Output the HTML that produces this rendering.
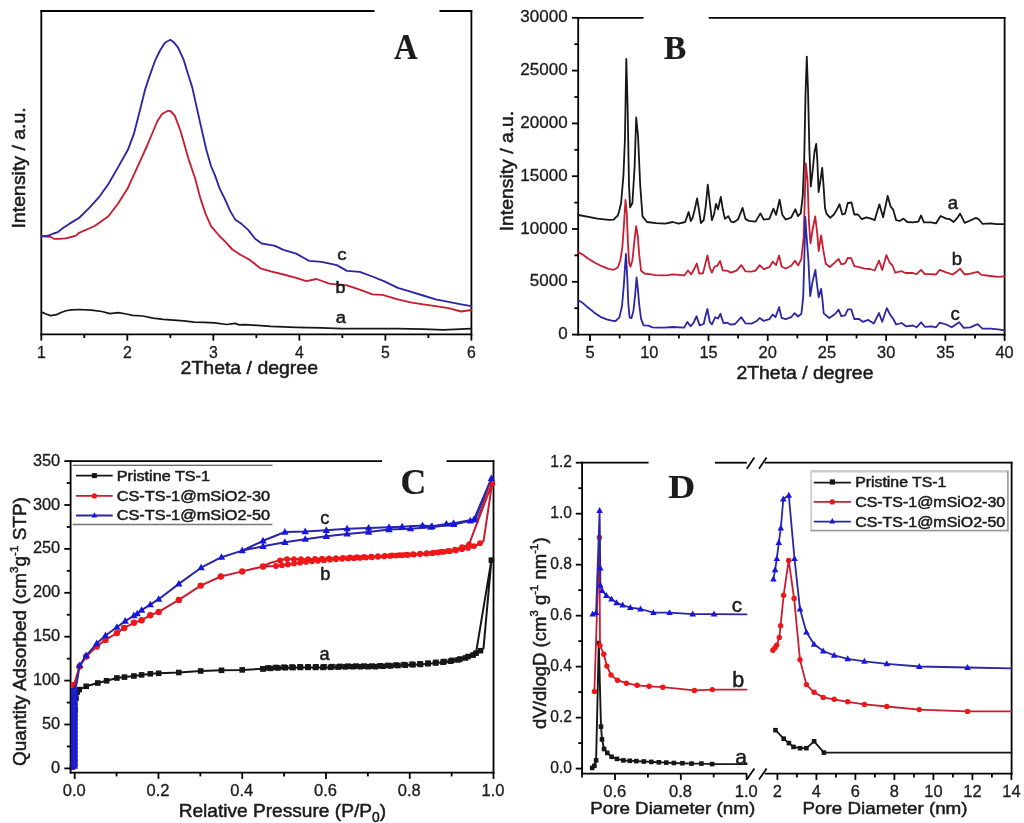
<!DOCTYPE html>
<html><head><meta charset="utf-8"><style>
html,body{margin:0;padding:0;background:#fff;width:1024px;height:823px;overflow:hidden}
svg{display:block}
text{stroke:#1c1c1c;stroke-width:0.5px}
</style></head><body>
<svg width="1024" height="823" viewBox="0 0 1024 823">
<defs><filter id="bl" x="0" y="0" width="1024" height="823" filterUnits="userSpaceOnUse"><feGaussianBlur stdDeviation="0.4"/></filter></defs>
<rect width="1024" height="823" fill="#fff"/>
<g filter="url(#bl)">
<rect width="1024" height="823" fill="#fff"/>
<line x1="41.30" y1="10.15" x2="41.30" y2="335.15" stroke="#000" stroke-width="1.8" stroke-linecap="butt"/>
<line x1="471.40" y1="10.15" x2="471.40" y2="335.15" stroke="#000" stroke-width="1.8" stroke-linecap="butt"/>
<line x1="40.45" y1="334.30" x2="472.25" y2="334.30" stroke="#000" stroke-width="1.8" stroke-linecap="butt"/>
<line x1="40.45" y1="11.00" x2="374.50" y2="11.00" stroke="#000" stroke-width="1.8" stroke-linecap="butt"/>
<line x1="439.50" y1="11.00" x2="472.25" y2="11.00" stroke="#000" stroke-width="1.8" stroke-linecap="butt"/>
<line x1="41.30" y1="334.30" x2="41.30" y2="340.60" stroke="#000" stroke-width="1.8" stroke-linecap="butt"/>
<text x="41.30" y="357.70" font-family="Liberation Sans" font-size="15.8" font-weight="normal" text-anchor="middle" fill="#1c1c1c" style="stroke-width:0.3px">1</text>
<line x1="84.31" y1="334.30" x2="84.31" y2="338.10" stroke="#000" stroke-width="1.8" stroke-linecap="butt"/>
<line x1="127.32" y1="334.30" x2="127.32" y2="340.60" stroke="#000" stroke-width="1.8" stroke-linecap="butt"/>
<text x="127.32" y="357.70" font-family="Liberation Sans" font-size="15.8" font-weight="normal" text-anchor="middle" fill="#1c1c1c" style="stroke-width:0.3px">2</text>
<line x1="170.33" y1="334.30" x2="170.33" y2="338.10" stroke="#000" stroke-width="1.8" stroke-linecap="butt"/>
<line x1="213.34" y1="334.30" x2="213.34" y2="340.60" stroke="#000" stroke-width="1.8" stroke-linecap="butt"/>
<text x="213.34" y="357.70" font-family="Liberation Sans" font-size="15.8" font-weight="normal" text-anchor="middle" fill="#1c1c1c" style="stroke-width:0.3px">3</text>
<line x1="256.35" y1="334.30" x2="256.35" y2="338.10" stroke="#000" stroke-width="1.8" stroke-linecap="butt"/>
<line x1="299.36" y1="334.30" x2="299.36" y2="340.60" stroke="#000" stroke-width="1.8" stroke-linecap="butt"/>
<text x="299.36" y="357.70" font-family="Liberation Sans" font-size="15.8" font-weight="normal" text-anchor="middle" fill="#1c1c1c" style="stroke-width:0.3px">4</text>
<line x1="342.37" y1="334.30" x2="342.37" y2="338.10" stroke="#000" stroke-width="1.8" stroke-linecap="butt"/>
<line x1="385.38" y1="334.30" x2="385.38" y2="340.60" stroke="#000" stroke-width="1.8" stroke-linecap="butt"/>
<text x="385.38" y="357.70" font-family="Liberation Sans" font-size="15.8" font-weight="normal" text-anchor="middle" fill="#1c1c1c" style="stroke-width:0.3px">5</text>
<line x1="428.39" y1="334.30" x2="428.39" y2="338.10" stroke="#000" stroke-width="1.8" stroke-linecap="butt"/>
<line x1="471.40" y1="334.30" x2="471.40" y2="340.60" stroke="#000" stroke-width="1.8" stroke-linecap="butt"/>
<text x="471.40" y="357.70" font-family="Liberation Sans" font-size="15.8" font-weight="normal" text-anchor="middle" fill="#1c1c1c" style="stroke-width:0.3px">6</text>
<g transform="translate(181.70,361.25) scale(1.0816,1.0088) translate(-301,-287)"><text x="300" y="300" font-family="Liberation Sans" font-size="18" fill="#1a1a1a" >2Theta / degree</text></g>
<g transform="translate(11.60,108.30) scale(1.0588,1.0818) translate(-287,-289)"><text x="0" y="0" font-family="Liberation Sans" font-size="18" fill="#1a1a1a" transform="translate(300,400) rotate(-90)" >Intensity / a.u.</text></g>
<g transform="translate(394.10,36.00) scale(0.9077,0.9708) translate(-300,-276)"><text x="300" y="300" font-family="Liberation Serif" font-weight="bold" style="stroke:#111;stroke-width:0.2px" font-size="36" fill="#1a1a1a" >A</text></g>
<polyline points="41.7,312.1 46.0,314.0 50.5,315.6 56.7,314.6 61.0,312.5 66.9,310.5 72.0,309.8 79.2,309.5 91.5,310.1 101.8,311.5 110.0,313.6 118.2,312.6 126.4,314.0 132.5,315.4 142.8,316.0 153.1,318.1 163.3,319.3 173.6,320.1 183.8,320.8 194.1,322.2 204.3,322.4 214.6,322.8 226.9,324.5 235.1,323.4 239.2,324.9 245.4,324.7 270.8,326.3 296.2,327.3 321.6,327.8 341.9,328.6 372.4,328.6 397.8,328.6 423.1,329.1 443.5,329.8 471.4,328.6" fill="none" stroke="#161616" stroke-width="1.75" stroke-linejoin="round" stroke-linecap="round" />
<polyline points="42.0,236.4 46.0,236.6 50.1,236.8 54.0,238.8 59.4,238.8 65.3,238.4 71.2,237.0 76.0,235.6 79.0,232.8 94.7,226.0 108.4,216.2 118.1,203.5 127.9,187.9 137.7,166.4 147.4,145.0 157.2,121.5 162.0,114.0 167.9,110.7 171.0,111.5 174.8,115.6 180.6,131.2 188.4,158.6 195.0,178.0 200.3,198.1 205.7,214.1 211.0,226.1 219.0,235.5 225.7,242.2 232.4,249.5 240.4,254.8 249.8,259.9 260.6,268.4 270.8,271.4 283.5,274.5 296.2,277.8 306.3,281.1 316.5,279.0 329.2,283.6 347.0,285.4 359.7,289.7 372.4,294.3 382.5,294.8 397.8,299.3 410.5,302.4 423.1,304.4 435.8,306.2 448.5,308.2 461.2,311.5 471.4,310.0" fill="none" stroke="#c81e30" stroke-width="1.85" stroke-linejoin="round" stroke-linecap="round" />
<polyline points="41.5,235.8 45.0,236.2 48.9,235.4 53.6,233.5 57.9,232.1 63.3,227.8 69.2,223.9 75.0,220.4 79.0,218.0 88.8,208.4 98.6,197.7 108.4,184.0 118.0,167.4 127.9,149.8 133.8,134.2 139.5,112.0 145.4,88.6 149.3,76.9 155.2,60.3 160.0,50.5 164.9,42.7 170.3,39.8 173.7,42.2 178.1,47.6 183.5,59.3 187.4,72.0 192.3,87.6 197.1,109.1 202.0,131.0 206.4,150.0 211.0,166.0 215.0,175.4 219.7,188.7 225.0,199.4 230.4,211.4 235.1,219.4 241.7,224.1 248.4,230.1 255.1,238.8 261.8,243.5 269.8,244.8 275.0,245.9 283.5,249.8 296.2,253.6 308.9,260.8 321.6,261.8 336.8,265.1 347.0,270.9 359.7,271.9 372.4,276.5 385.0,281.6 397.8,287.9 410.5,291.7 423.1,295.5 435.8,299.3 448.5,301.9 461.2,304.4 471.4,306.2" fill="none" stroke="#2a25a4" stroke-width="1.85" stroke-linejoin="round" stroke-linecap="round" />
<text x="0" y="0" font-family="Liberation Sans" font-size="17" font-weight="normal" text-anchor="middle" fill="#1c1c1c" transform="translate(341.90,259.70) scale(1.1,1)">c</text>
<text x="0" y="0" font-family="Liberation Sans" font-size="17" font-weight="normal" text-anchor="middle" fill="#1c1c1c" transform="translate(340.40,293.10) scale(1.05,1)">b</text>
<text x="0" y="0" font-family="Liberation Sans" font-size="17" font-weight="normal" text-anchor="middle" fill="#1c1c1c" transform="translate(340.75,323.00) scale(1.08,1)">a</text>
<line x1="578.20" y1="16.95" x2="578.20" y2="335.45" stroke="#000" stroke-width="1.8" stroke-linecap="butt"/>
<line x1="1004.60" y1="16.95" x2="1004.60" y2="335.45" stroke="#000" stroke-width="1.8" stroke-linecap="butt"/>
<line x1="577.35" y1="334.60" x2="1005.45" y2="334.60" stroke="#000" stroke-width="1.8" stroke-linecap="butt"/>
<line x1="577.35" y1="17.80" x2="643.50" y2="17.80" stroke="#000" stroke-width="1.8" stroke-linecap="butt"/>
<line x1="708.70" y1="17.80" x2="1005.45" y2="17.80" stroke="#000" stroke-width="1.8" stroke-linecap="butt"/>
<line x1="571.90" y1="334.60" x2="578.20" y2="334.60" stroke="#000" stroke-width="1.8" stroke-linecap="butt"/>
<text x="0" y="0" font-family="Liberation Sans" font-size="15.6" font-weight="normal" text-anchor="end" fill="#1c1c1c" style="stroke-width:0.3px" transform="translate(567.60,339.20) scale(1.09,1)">0</text>
<line x1="574.40" y1="308.20" x2="578.20" y2="308.20" stroke="#000" stroke-width="1.8" stroke-linecap="butt"/>
<line x1="571.90" y1="281.80" x2="578.20" y2="281.80" stroke="#000" stroke-width="1.8" stroke-linecap="butt"/>
<text x="0" y="0" font-family="Liberation Sans" font-size="15.6" font-weight="normal" text-anchor="end" fill="#1c1c1c" style="stroke-width:0.3px" transform="translate(567.60,286.40) scale(1.09,1)">5000</text>
<line x1="574.40" y1="255.40" x2="578.20" y2="255.40" stroke="#000" stroke-width="1.8" stroke-linecap="butt"/>
<line x1="571.90" y1="229.00" x2="578.20" y2="229.00" stroke="#000" stroke-width="1.8" stroke-linecap="butt"/>
<text x="0" y="0" font-family="Liberation Sans" font-size="15.6" font-weight="normal" text-anchor="end" fill="#1c1c1c" style="stroke-width:0.3px" transform="translate(567.60,233.60) scale(1.09,1)">10000</text>
<line x1="574.40" y1="202.60" x2="578.20" y2="202.60" stroke="#000" stroke-width="1.8" stroke-linecap="butt"/>
<line x1="571.90" y1="176.20" x2="578.20" y2="176.20" stroke="#000" stroke-width="1.8" stroke-linecap="butt"/>
<text x="0" y="0" font-family="Liberation Sans" font-size="15.6" font-weight="normal" text-anchor="end" fill="#1c1c1c" style="stroke-width:0.3px" transform="translate(567.60,180.80) scale(1.09,1)">15000</text>
<line x1="574.40" y1="149.80" x2="578.20" y2="149.80" stroke="#000" stroke-width="1.8" stroke-linecap="butt"/>
<line x1="571.90" y1="123.40" x2="578.20" y2="123.40" stroke="#000" stroke-width="1.8" stroke-linecap="butt"/>
<text x="0" y="0" font-family="Liberation Sans" font-size="15.6" font-weight="normal" text-anchor="end" fill="#1c1c1c" style="stroke-width:0.3px" transform="translate(567.60,128.00) scale(1.09,1)">20000</text>
<line x1="574.40" y1="97.00" x2="578.20" y2="97.00" stroke="#000" stroke-width="1.8" stroke-linecap="butt"/>
<line x1="571.90" y1="70.60" x2="578.20" y2="70.60" stroke="#000" stroke-width="1.8" stroke-linecap="butt"/>
<text x="0" y="0" font-family="Liberation Sans" font-size="15.6" font-weight="normal" text-anchor="end" fill="#1c1c1c" style="stroke-width:0.3px" transform="translate(567.60,75.20) scale(1.09,1)">25000</text>
<line x1="574.40" y1="44.20" x2="578.20" y2="44.20" stroke="#000" stroke-width="1.8" stroke-linecap="butt"/>
<line x1="571.90" y1="17.80" x2="578.20" y2="17.80" stroke="#000" stroke-width="1.8" stroke-linecap="butt"/>
<text x="0" y="0" font-family="Liberation Sans" font-size="15.6" font-weight="normal" text-anchor="end" fill="#1c1c1c" style="stroke-width:0.3px" transform="translate(567.60,22.40) scale(1.09,1)">30000</text>
<line x1="590.04" y1="334.60" x2="590.04" y2="340.90" stroke="#000" stroke-width="1.8" stroke-linecap="butt"/>
<text x="0" y="0" font-family="Liberation Sans" font-size="15.6" font-weight="normal" text-anchor="middle" fill="#1c1c1c" style="stroke-width:0.3px" transform="translate(590.04,358.00) scale(1.05,1)">5</text>
<line x1="619.66" y1="334.60" x2="619.66" y2="338.40" stroke="#000" stroke-width="1.8" stroke-linecap="butt"/>
<line x1="649.27" y1="334.60" x2="649.27" y2="340.90" stroke="#000" stroke-width="1.8" stroke-linecap="butt"/>
<text x="0" y="0" font-family="Liberation Sans" font-size="15.6" font-weight="normal" text-anchor="middle" fill="#1c1c1c" style="stroke-width:0.3px" transform="translate(649.27,358.00) scale(1.05,1)">10</text>
<line x1="678.88" y1="334.60" x2="678.88" y2="338.40" stroke="#000" stroke-width="1.8" stroke-linecap="butt"/>
<line x1="708.49" y1="334.60" x2="708.49" y2="340.90" stroke="#000" stroke-width="1.8" stroke-linecap="butt"/>
<text x="0" y="0" font-family="Liberation Sans" font-size="15.6" font-weight="normal" text-anchor="middle" fill="#1c1c1c" style="stroke-width:0.3px" transform="translate(708.49,358.00) scale(1.05,1)">15</text>
<line x1="738.10" y1="334.60" x2="738.10" y2="338.40" stroke="#000" stroke-width="1.8" stroke-linecap="butt"/>
<line x1="767.71" y1="334.60" x2="767.71" y2="340.90" stroke="#000" stroke-width="1.8" stroke-linecap="butt"/>
<text x="0" y="0" font-family="Liberation Sans" font-size="15.6" font-weight="normal" text-anchor="middle" fill="#1c1c1c" style="stroke-width:0.3px" transform="translate(767.71,358.00) scale(1.05,1)">20</text>
<line x1="797.32" y1="334.60" x2="797.32" y2="338.40" stroke="#000" stroke-width="1.8" stroke-linecap="butt"/>
<line x1="826.93" y1="334.60" x2="826.93" y2="340.90" stroke="#000" stroke-width="1.8" stroke-linecap="butt"/>
<text x="0" y="0" font-family="Liberation Sans" font-size="15.6" font-weight="normal" text-anchor="middle" fill="#1c1c1c" style="stroke-width:0.3px" transform="translate(826.93,358.00) scale(1.05,1)">25</text>
<line x1="856.54" y1="334.60" x2="856.54" y2="338.40" stroke="#000" stroke-width="1.8" stroke-linecap="butt"/>
<line x1="886.16" y1="334.60" x2="886.16" y2="340.90" stroke="#000" stroke-width="1.8" stroke-linecap="butt"/>
<text x="0" y="0" font-family="Liberation Sans" font-size="15.6" font-weight="normal" text-anchor="middle" fill="#1c1c1c" style="stroke-width:0.3px" transform="translate(886.16,358.00) scale(1.05,1)">30</text>
<line x1="915.77" y1="334.60" x2="915.77" y2="338.40" stroke="#000" stroke-width="1.8" stroke-linecap="butt"/>
<line x1="945.38" y1="334.60" x2="945.38" y2="340.90" stroke="#000" stroke-width="1.8" stroke-linecap="butt"/>
<text x="0" y="0" font-family="Liberation Sans" font-size="15.6" font-weight="normal" text-anchor="middle" fill="#1c1c1c" style="stroke-width:0.3px" transform="translate(945.38,358.00) scale(1.05,1)">35</text>
<line x1="974.99" y1="334.60" x2="974.99" y2="338.40" stroke="#000" stroke-width="1.8" stroke-linecap="butt"/>
<line x1="1004.60" y1="334.60" x2="1004.60" y2="340.90" stroke="#000" stroke-width="1.8" stroke-linecap="butt"/>
<text x="0" y="0" font-family="Liberation Sans" font-size="15.6" font-weight="normal" text-anchor="middle" fill="#1c1c1c" style="stroke-width:0.3px" transform="translate(1004.60,358.00) scale(1.05,1)">40</text>
<g transform="translate(737.50,365.60) scale(1.0784,1.0294) translate(-301,-287)"><text x="300" y="300" font-family="Liberation Sans" font-size="18" fill="#1a1a1a" >2Theta / degree</text></g>
<g transform="translate(499.40,111.90) scale(1.0647,1.0755) translate(-287,-289)"><text x="0" y="0" font-family="Liberation Sans" font-size="18" fill="#1a1a1a" transform="translate(300,400) rotate(-90)" >Intensity / a.u.</text></g>
<g transform="translate(664.80,37.40) scale(0.9364,0.9125) translate(-301,-276)"><text x="300" y="300" font-family="Liberation Serif" font-weight="bold" style="stroke:#111;stroke-width:0.2px" font-size="36" fill="#1a1a1a" >B</text></g>
<polyline points="578.3,215.0 588.5,216.9 597.5,218.7 608.7,219.8 613.7,219.6 615.5,217.6 617.8,215.5 618.9,212.0 621.1,203.0 623.4,176.0 624.9,140.0 626.3,59.0 627.6,106.2 629.0,185.0 630.1,207.4 632.4,203.0 634.6,167.0 636.2,117.5 638.0,135.5 640.2,185.0 642.5,216.4 647.0,222.0 656.0,223.2 665.0,223.6 672.8,222.0 678.5,223.6 685.2,222.0 688.6,212.0 690.8,221.0 692.7,217.5 694.8,209.3 697.1,198.4 698.9,209.3 700.9,223.0 703.7,220.2 705.7,206.6 707.8,184.7 709.8,202.5 711.9,220.2 713.9,214.8 716.0,203.8 718.0,209.3 720.8,197.0 722.8,209.3 724.9,218.9 728.3,216.1 731.0,221.6 733.8,222.3 737.9,219.6 742.6,207.9 745.4,218.9 748.8,220.9 755.6,221.6 760.4,213.4 763.8,219.6 769.3,218.9 773.4,208.6 776.1,214.8 779.6,199.7 782.3,214.8 785.7,219.6 791.2,217.5 795.3,209.3 798.0,216.1 800.7,213.4 802.8,195.6 804.2,160.0 805.5,95.0 806.8,56.6 808.0,90.0 809.4,150.0 810.8,186.4 812.5,172.0 814.5,152.0 816.2,144.0 817.3,160.0 818.6,192.0 820.5,180.0 822.2,168.0 823.5,185.0 825.0,208.0 826.5,213.6 830.2,217.9 833.9,214.5 836.7,209.9 839.5,204.3 842.3,214.5 845.1,213.6 847.8,203.0 851.5,202.5 854.3,214.5 858.0,214.5 861.8,219.2 866.4,217.3 871.0,218.6 874.7,220.1 879.4,204.3 883.1,217.3 887.7,196.0 890.5,206.2 893.3,209.9 896.1,220.1 899.8,221.0 903.5,218.6 907.2,222.0 912.8,222.3 918.3,221.6 921.1,215.5 923.9,222.3 931.3,222.3 936.0,223.4 940.6,216.0 946.2,218.6 949.9,219.2 953.6,222.0 957.3,217.9 960.1,213.6 964.7,222.9 970.3,220.5 975.9,217.9 978.7,219.2 982.4,223.8 990.7,223.4 996.3,224.2 1004.6,224.2" fill="none" stroke="#161616" stroke-width="1.8" stroke-linejoin="round" stroke-linecap="round" />
<polyline points="578.3,252.1 583.0,254.8 588.4,258.8 595.0,262.8 601.7,266.2 608.4,268.8 613.7,269.8 617.8,267.5 620.4,260.2 622.4,246.8 623.8,226.8 625.5,200.0 626.8,213.4 627.8,240.1 629.1,262.8 630.4,266.8 632.4,260.2 634.5,240.1 636.2,226.1 637.8,236.1 639.1,253.5 641.1,270.8 644.5,273.5 651.2,274.3 655.2,275.1 663.9,275.3 668.5,275.1 672.8,274.3 681.9,275.1 684.2,275.5 688.0,270.5 691.2,274.3 694.6,268.2 696.8,263.5 699.2,273.5 703.0,273.3 705.0,265.1 707.5,255.5 709.8,267.9 711.9,272.6 714.6,266.5 717.3,265.8 720.1,261.0 722.8,270.6 726.9,270.6 731.0,272.6 736.5,270.6 741.3,265.1 745.4,271.3 751.5,271.7 755.6,270.6 759.7,265.1 763.8,269.2 769.3,267.2 772.7,261.7 776.1,265.1 779.1,255.5 781.6,266.5 785.7,268.5 791.2,265.8 795.0,260.7 798.2,265.4 801.3,259.1 803.7,237.0 804.8,197.4 805.8,163.4 807.6,181.6 808.9,221.1 810.5,243.3 812.7,229.0 815.2,216.4 817.1,232.2 818.7,251.2 821.1,235.4 823.5,251.2 825.8,263.8 829.8,267.0 833.9,263.4 838.6,258.8 841.3,264.3 845.1,263.4 847.8,257.8 851.2,258.2 854.3,266.2 859.0,267.1 864.5,268.6 870.1,269.0 874.7,270.5 879.0,260.6 882.2,269.9 886.4,255.1 889.6,262.5 892.4,265.3 895.2,272.7 901.6,271.2 905.4,273.0 912.8,273.0 916.5,274.2 921.1,269.9 924.8,274.2 931.3,274.2 936.0,274.5 939.7,269.9 946.2,272.3 952.7,274.5 957.3,271.2 960.1,268.6 964.7,274.5 970.3,273.6 977.7,271.8 981.4,274.9 990.7,276.0 998.1,276.8 1004.6,276.4" fill="none" stroke="#c81e30" stroke-width="1.8" stroke-linejoin="round" stroke-linecap="round" />
<polyline points="578.2,300.3 582.6,302.8 587.7,307.3 594.0,312.4 600.4,316.8 606.7,319.3 611.8,320.6 615.6,321.0 619.4,317.4 622.0,306.0 623.9,284.4 625.1,265.4 626.0,254.0 627.3,278.1 628.3,303.5 629.6,317.4 631.5,318.1 633.4,311.1 635.3,293.3 636.6,277.5 637.8,288.2 639.1,303.5 641.0,318.7 643.6,325.3 648.6,325.7 652.4,327.3 657.5,327.6 663.9,327.6 672.8,327.0 684.2,327.6 687.4,321.9 690.5,326.3 693.7,322.5 696.6,316.2 699.6,325.4 703.7,324.0 705.7,315.1 707.4,309.0 709.8,322.0 711.9,324.4 715.3,317.2 718.0,318.5 720.4,313.8 723.5,323.3 726.9,322.6 731.0,324.7 735.1,324.0 741.3,317.2 745.4,323.3 751.5,323.6 756.3,321.3 759.7,317.9 763.8,320.9 769.3,319.2 772.7,314.4 775.5,317.2 779.1,307.2 781.6,317.9 785.7,319.2 791.2,317.2 794.6,313.1 798.0,316.5 801.4,313.8 803.2,297.3 804.3,260.0 805.3,217.0 806.5,235.0 808.4,260.8 810.2,296.0 812.4,282.3 815.4,269.9 816.8,283.0 818.7,297.3 821.1,288.8 822.5,300.0 823.7,313.4 829.3,318.0 834.8,314.3 838.6,309.7 841.3,316.2 845.1,315.3 847.8,309.3 851.2,309.3 854.3,319.0 859.0,319.0 862.7,321.8 868.2,319.9 873.8,323.6 879.0,313.0 882.2,321.8 886.8,308.2 890.5,315.3 893.3,319.0 896.1,324.5 901.6,323.0 906.3,326.4 912.8,325.5 916.5,327.3 921.1,322.3 924.8,326.8 931.3,326.4 936.0,327.3 939.7,322.7 946.2,324.5 951.7,327.3 959.2,322.3 963.8,327.9 970.3,327.3 977.7,324.2 982.4,328.6 990.7,328.6 1000.0,329.7 1004.6,330.5" fill="none" stroke="#2a25a4" stroke-width="1.8" stroke-linejoin="round" stroke-linecap="round" />
<text x="0" y="0" font-family="Liberation Sans" font-size="17.5" font-weight="normal" text-anchor="middle" fill="#1c1c1c" transform="translate(952.90,208.80) scale(1.06,1)">a</text>
<text x="0" y="0" font-family="Liberation Sans" font-size="17.5" font-weight="normal" text-anchor="middle" fill="#1c1c1c" transform="translate(957.00,265.00) scale(1.06,1)">b</text>
<text x="0" y="0" font-family="Liberation Sans" font-size="17.5" font-weight="normal" text-anchor="middle" fill="#1c1c1c" transform="translate(955.10,319.70) scale(1.06,1)">c</text>
<line x1="70.60" y1="460.25" x2="70.60" y2="773.45" stroke="#000" stroke-width="1.8" stroke-linecap="butt"/>
<line x1="493.50" y1="460.25" x2="493.50" y2="773.45" stroke="#000" stroke-width="1.8" stroke-linecap="butt"/>
<line x1="69.75" y1="772.60" x2="494.35" y2="772.60" stroke="#000" stroke-width="1.8" stroke-linecap="butt"/>
<line x1="69.75" y1="461.10" x2="382.00" y2="461.10" stroke="#000" stroke-width="1.8" stroke-linecap="butt"/>
<line x1="446.50" y1="461.10" x2="494.35" y2="461.10" stroke="#000" stroke-width="1.8" stroke-linecap="butt"/>
<line x1="64.30" y1="768.40" x2="70.60" y2="768.40" stroke="#000" stroke-width="1.8" stroke-linecap="butt"/>
<text x="0" y="0" font-family="Liberation Sans" font-size="15.6" font-weight="normal" text-anchor="end" fill="#1c1c1c" style="stroke-width:0.3px" transform="translate(60.20,772.90) scale(1.05,1)">0</text>
<line x1="66.80" y1="746.45" x2="70.60" y2="746.45" stroke="#000" stroke-width="1.8" stroke-linecap="butt"/>
<line x1="64.30" y1="724.50" x2="70.60" y2="724.50" stroke="#000" stroke-width="1.8" stroke-linecap="butt"/>
<text x="0" y="0" font-family="Liberation Sans" font-size="15.6" font-weight="normal" text-anchor="end" fill="#1c1c1c" style="stroke-width:0.3px" transform="translate(60.20,729.00) scale(1.05,1)">50</text>
<line x1="66.80" y1="702.55" x2="70.60" y2="702.55" stroke="#000" stroke-width="1.8" stroke-linecap="butt"/>
<line x1="64.30" y1="680.60" x2="70.60" y2="680.60" stroke="#000" stroke-width="1.8" stroke-linecap="butt"/>
<text x="0" y="0" font-family="Liberation Sans" font-size="15.6" font-weight="normal" text-anchor="end" fill="#1c1c1c" style="stroke-width:0.3px" transform="translate(60.20,685.10) scale(1.05,1)">100</text>
<line x1="66.80" y1="658.65" x2="70.60" y2="658.65" stroke="#000" stroke-width="1.8" stroke-linecap="butt"/>
<line x1="64.30" y1="636.70" x2="70.60" y2="636.70" stroke="#000" stroke-width="1.8" stroke-linecap="butt"/>
<text x="0" y="0" font-family="Liberation Sans" font-size="15.6" font-weight="normal" text-anchor="end" fill="#1c1c1c" style="stroke-width:0.3px" transform="translate(60.20,641.20) scale(1.05,1)">150</text>
<line x1="66.80" y1="614.75" x2="70.60" y2="614.75" stroke="#000" stroke-width="1.8" stroke-linecap="butt"/>
<line x1="64.30" y1="592.80" x2="70.60" y2="592.80" stroke="#000" stroke-width="1.8" stroke-linecap="butt"/>
<text x="0" y="0" font-family="Liberation Sans" font-size="15.6" font-weight="normal" text-anchor="end" fill="#1c1c1c" style="stroke-width:0.3px" transform="translate(60.20,597.30) scale(1.05,1)">200</text>
<line x1="66.80" y1="570.85" x2="70.60" y2="570.85" stroke="#000" stroke-width="1.8" stroke-linecap="butt"/>
<line x1="64.30" y1="548.90" x2="70.60" y2="548.90" stroke="#000" stroke-width="1.8" stroke-linecap="butt"/>
<text x="0" y="0" font-family="Liberation Sans" font-size="15.6" font-weight="normal" text-anchor="end" fill="#1c1c1c" style="stroke-width:0.3px" transform="translate(60.20,553.40) scale(1.05,1)">250</text>
<line x1="66.80" y1="526.95" x2="70.60" y2="526.95" stroke="#000" stroke-width="1.8" stroke-linecap="butt"/>
<line x1="64.30" y1="505.00" x2="70.60" y2="505.00" stroke="#000" stroke-width="1.8" stroke-linecap="butt"/>
<text x="0" y="0" font-family="Liberation Sans" font-size="15.6" font-weight="normal" text-anchor="end" fill="#1c1c1c" style="stroke-width:0.3px" transform="translate(60.20,509.50) scale(1.05,1)">300</text>
<line x1="66.80" y1="483.05" x2="70.60" y2="483.05" stroke="#000" stroke-width="1.8" stroke-linecap="butt"/>
<line x1="64.30" y1="461.10" x2="70.60" y2="461.10" stroke="#000" stroke-width="1.8" stroke-linecap="butt"/>
<text x="0" y="0" font-family="Liberation Sans" font-size="15.6" font-weight="normal" text-anchor="end" fill="#1c1c1c" style="stroke-width:0.3px" transform="translate(60.20,465.60) scale(1.05,1)">350</text>
<line x1="74.70" y1="772.60" x2="74.70" y2="778.90" stroke="#000" stroke-width="1.8" stroke-linecap="butt"/>
<text x="0" y="0" font-family="Liberation Sans" font-size="15.6" font-weight="normal" text-anchor="middle" fill="#1c1c1c" style="stroke-width:0.3px" transform="translate(74.20,796.10) scale(1.06,1)">0.0</text>
<line x1="116.58" y1="772.60" x2="116.58" y2="776.40" stroke="#000" stroke-width="1.8" stroke-linecap="butt"/>
<line x1="158.46" y1="772.60" x2="158.46" y2="778.90" stroke="#000" stroke-width="1.8" stroke-linecap="butt"/>
<text x="0" y="0" font-family="Liberation Sans" font-size="15.6" font-weight="normal" text-anchor="middle" fill="#1c1c1c" style="stroke-width:0.3px" transform="translate(157.96,796.10) scale(1.06,1)">0.2</text>
<line x1="200.34" y1="772.60" x2="200.34" y2="776.40" stroke="#000" stroke-width="1.8" stroke-linecap="butt"/>
<line x1="242.22" y1="772.60" x2="242.22" y2="778.90" stroke="#000" stroke-width="1.8" stroke-linecap="butt"/>
<text x="0" y="0" font-family="Liberation Sans" font-size="15.6" font-weight="normal" text-anchor="middle" fill="#1c1c1c" style="stroke-width:0.3px" transform="translate(241.72,796.10) scale(1.06,1)">0.4</text>
<line x1="284.10" y1="772.60" x2="284.10" y2="776.40" stroke="#000" stroke-width="1.8" stroke-linecap="butt"/>
<line x1="325.98" y1="772.60" x2="325.98" y2="778.90" stroke="#000" stroke-width="1.8" stroke-linecap="butt"/>
<text x="0" y="0" font-family="Liberation Sans" font-size="15.6" font-weight="normal" text-anchor="middle" fill="#1c1c1c" style="stroke-width:0.3px" transform="translate(325.48,796.10) scale(1.06,1)">0.6</text>
<line x1="367.86" y1="772.60" x2="367.86" y2="776.40" stroke="#000" stroke-width="1.8" stroke-linecap="butt"/>
<line x1="409.74" y1="772.60" x2="409.74" y2="778.90" stroke="#000" stroke-width="1.8" stroke-linecap="butt"/>
<text x="0" y="0" font-family="Liberation Sans" font-size="15.6" font-weight="normal" text-anchor="middle" fill="#1c1c1c" style="stroke-width:0.3px" transform="translate(409.24,796.10) scale(1.06,1)">0.8</text>
<line x1="451.62" y1="772.60" x2="451.62" y2="776.40" stroke="#000" stroke-width="1.8" stroke-linecap="butt"/>
<line x1="493.50" y1="772.60" x2="493.50" y2="778.90" stroke="#000" stroke-width="1.8" stroke-linecap="butt"/>
<text x="0" y="0" font-family="Liberation Sans" font-size="15.6" font-weight="normal" text-anchor="middle" fill="#1c1c1c" style="stroke-width:0.3px" transform="translate(493.00,796.10) scale(1.06,1)">1.0</text>
<g transform="translate(179.70,802.80) scale(1.0627,1.0588) translate(-301,-287)"><text x="300" y="300" font-family="Liberation Sans" font-size="18" fill="#1a1a1a" >Relative Pressure (P/P<tspan class="aux" font-size="13" dy="5">0</tspan><tspan dy="-5">)</tspan></text></g>
<g transform="translate(12.40,498.10) scale(1.0294,1.0545) translate(-287,-146)"><text x="0" y="0" font-family="Liberation Sans" font-size="18" fill="#1a1a1a" transform="translate(300,400) rotate(-90)" >Quantity Adsorbed (cm<tspan class="aux" font-size="11" dy="-8">3</tspan><tspan dy="8">g</tspan><tspan class="aux" font-size="11" dy="-8">-1</tspan><tspan dy="8"> STP)</tspan></text></g>
<g transform="translate(402.60,470.80) scale(0.9905,0.9792) translate(-302,-276)"><text x="300" y="300" font-family="Liberation Serif" font-weight="bold" style="stroke:#111;stroke-width:0.2px" font-size="36" fill="#1a1a1a" >C</text></g>
<line x1="72.60" y1="465.30" x2="272.50" y2="465.30" stroke="#333" stroke-width="1.1" stroke-linecap="butt"/>
<line x1="72.60" y1="524.50" x2="272.50" y2="524.50" stroke="#777" stroke-width="1.3" stroke-linecap="butt"/>
<line x1="75.90" y1="475.60" x2="112.70" y2="475.60" stroke="#161616" stroke-width="1.8" stroke-linecap="butt"/>
<rect x="91.90" y="473.10" width="5.0" height="5.0" fill="#161616"/>
<line x1="75.90" y1="495.90" x2="112.70" y2="495.90" stroke="#c81e30" stroke-width="1.8" stroke-linecap="butt"/>
<circle cx="94.40" cy="495.90" r="2.6" fill="#ee1414"/>
<line x1="75.90" y1="515.50" x2="112.70" y2="515.50" stroke="#2a25a4" stroke-width="1.8" stroke-linecap="butt"/>
<polygon points="94.40,512.17 97.30,517.39 91.50,517.39" fill="#1818e0"/>
<g transform="translate(117.90,481.30) scale(1.1570,1.0000) translate(-301,-300)"><text x="300" y="300" font-family="Liberation Sans" font-size="14" fill="#1a1a1a" >Pristine TS-1</text></g>
<g transform="translate(117.90,500.90) scale(1.1656,1.0000) translate(-301,-300)"><text x="300" y="300" font-family="Liberation Sans" font-size="14" fill="#1a1a1a" >CS-TS-1@mSiO2-30</text></g>
<g transform="translate(117.90,520.50) scale(1.1656,1.0000) translate(-301,-300)"><text x="300" y="300" font-family="Liberation Sans" font-size="14" fill="#1a1a1a" >CS-TS-1@mSiO2-50</text></g>
<polyline points="72.5,767.0 73.0,755.0 73.6,740.0 74.2,725.0 75.0,710.0 76.0,698.0 77.2,692.0 79.2,689.6 86.2,686.3 97.8,683.0 106.6,680.8 116.9,678.0 124.5,677.1 133.9,676.0 141.6,674.9 150.3,673.8 158.7,673.3 178.8,672.5 200.7,671.0 221.5,670.3 242.2,669.9 263.0,668.8 278.9,667.9 302.8,667.4 326.8,667.4 350.7,666.7 374.6,666.7 398.5,665.5 422.5,664.3 446.4,661.9 460.7,659.5 470.3,656.4 477.5,653.1 483.5,648.3 491.4,560.2 476.3,651.1 470.0,655.0 460.7,658.8 446.4,661.5" fill="none" stroke="#161616" stroke-width="2.0" stroke-linejoin="round" stroke-linecap="round" />
<rect x="69.70" y="764.20" width="5.6" height="5.6" fill="#161616"/>
<rect x="70.20" y="752.20" width="5.6" height="5.6" fill="#161616"/>
<rect x="70.80" y="737.20" width="5.6" height="5.6" fill="#161616"/>
<rect x="71.40" y="722.20" width="5.6" height="5.6" fill="#161616"/>
<rect x="72.20" y="707.20" width="5.6" height="5.6" fill="#161616"/>
<rect x="73.20" y="695.20" width="5.6" height="5.6" fill="#161616"/>
<rect x="74.40" y="689.20" width="5.6" height="5.6" fill="#161616"/>
<rect x="76.40" y="686.80" width="5.6" height="5.6" fill="#161616"/>
<rect x="83.40" y="683.50" width="5.6" height="5.6" fill="#161616"/>
<rect x="95.00" y="680.20" width="5.6" height="5.6" fill="#161616"/>
<rect x="103.80" y="678.00" width="5.6" height="5.6" fill="#161616"/>
<rect x="114.10" y="675.20" width="5.6" height="5.6" fill="#161616"/>
<rect x="121.70" y="674.30" width="5.6" height="5.6" fill="#161616"/>
<rect x="131.10" y="673.20" width="5.6" height="5.6" fill="#161616"/>
<rect x="138.80" y="672.10" width="5.6" height="5.6" fill="#161616"/>
<rect x="147.50" y="671.00" width="5.6" height="5.6" fill="#161616"/>
<rect x="155.90" y="670.50" width="5.6" height="5.6" fill="#161616"/>
<rect x="176.00" y="669.70" width="5.6" height="5.6" fill="#161616"/>
<rect x="197.90" y="668.20" width="5.6" height="5.6" fill="#161616"/>
<rect x="218.70" y="667.50" width="5.6" height="5.6" fill="#161616"/>
<rect x="239.40" y="667.10" width="5.6" height="5.6" fill="#161616"/>
<rect x="260.20" y="666.00" width="5.6" height="5.6" fill="#161616"/>
<rect x="260.20" y="666.00" width="5.6" height="5.6" fill="#161616"/>
<rect x="267.70" y="665.58" width="5.6" height="5.6" fill="#161616"/>
<rect x="275.20" y="665.15" width="5.6" height="5.6" fill="#161616"/>
<rect x="282.70" y="664.96" width="5.6" height="5.6" fill="#161616"/>
<rect x="290.20" y="664.81" width="5.6" height="5.6" fill="#161616"/>
<rect x="297.70" y="664.65" width="5.6" height="5.6" fill="#161616"/>
<rect x="305.20" y="664.60" width="5.6" height="5.6" fill="#161616"/>
<rect x="312.70" y="664.60" width="5.6" height="5.6" fill="#161616"/>
<rect x="320.20" y="664.60" width="5.6" height="5.6" fill="#161616"/>
<rect x="327.70" y="664.49" width="5.6" height="5.6" fill="#161616"/>
<rect x="335.20" y="664.27" width="5.6" height="5.6" fill="#161616"/>
<rect x="342.70" y="664.05" width="5.6" height="5.6" fill="#161616"/>
<rect x="350.20" y="663.90" width="5.6" height="5.6" fill="#161616"/>
<rect x="357.70" y="663.90" width="5.6" height="5.6" fill="#161616"/>
<rect x="365.20" y="663.90" width="5.6" height="5.6" fill="#161616"/>
<rect x="372.70" y="663.85" width="5.6" height="5.6" fill="#161616"/>
<rect x="380.20" y="663.48" width="5.6" height="5.6" fill="#161616"/>
<rect x="387.70" y="663.10" width="5.6" height="5.6" fill="#161616"/>
<rect x="395.20" y="662.73" width="5.6" height="5.6" fill="#161616"/>
<rect x="402.70" y="662.35" width="5.6" height="5.6" fill="#161616"/>
<rect x="410.20" y="661.98" width="5.6" height="5.6" fill="#161616"/>
<rect x="417.70" y="661.60" width="5.6" height="5.6" fill="#161616"/>
<rect x="425.20" y="660.95" width="5.6" height="5.6" fill="#161616"/>
<rect x="432.70" y="660.19" width="5.6" height="5.6" fill="#161616"/>
<rect x="440.20" y="659.44" width="5.6" height="5.6" fill="#161616"/>
<rect x="447.70" y="658.41" width="5.6" height="5.6" fill="#161616"/>
<rect x="455.20" y="657.15" width="5.6" height="5.6" fill="#161616"/>
<rect x="462.70" y="655.15" width="5.6" height="5.6" fill="#161616"/>
<rect x="470.20" y="652.36" width="5.6" height="5.6" fill="#161616"/>
<rect x="477.70" y="647.90" width="5.6" height="5.6" fill="#161616"/>
<rect x="265.20" y="665.12" width="5.6" height="5.6" fill="#161616"/>
<rect x="273.20" y="664.66" width="5.6" height="5.6" fill="#161616"/>
<rect x="281.20" y="664.39" width="5.6" height="5.6" fill="#161616"/>
<rect x="289.20" y="664.23" width="5.6" height="5.6" fill="#161616"/>
<rect x="297.20" y="664.06" width="5.6" height="5.6" fill="#161616"/>
<rect x="305.20" y="664.00" width="5.6" height="5.6" fill="#161616"/>
<rect x="313.20" y="664.00" width="5.6" height="5.6" fill="#161616"/>
<rect x="321.20" y="664.00" width="5.6" height="5.6" fill="#161616"/>
<rect x="329.20" y="663.85" width="5.6" height="5.6" fill="#161616"/>
<rect x="337.20" y="663.61" width="5.6" height="5.6" fill="#161616"/>
<rect x="345.20" y="663.38" width="5.6" height="5.6" fill="#161616"/>
<rect x="353.20" y="663.30" width="5.6" height="5.6" fill="#161616"/>
<rect x="361.20" y="663.30" width="5.6" height="5.6" fill="#161616"/>
<rect x="369.20" y="663.30" width="5.6" height="5.6" fill="#161616"/>
<rect x="377.20" y="663.03" width="5.6" height="5.6" fill="#161616"/>
<rect x="385.20" y="662.63" width="5.6" height="5.6" fill="#161616"/>
<rect x="393.20" y="662.23" width="5.6" height="5.6" fill="#161616"/>
<rect x="401.20" y="661.83" width="5.6" height="5.6" fill="#161616"/>
<rect x="409.20" y="661.42" width="5.6" height="5.6" fill="#161616"/>
<rect x="417.20" y="661.02" width="5.6" height="5.6" fill="#161616"/>
<rect x="425.20" y="660.35" width="5.6" height="5.6" fill="#161616"/>
<rect x="433.20" y="659.54" width="5.6" height="5.6" fill="#161616"/>
<rect x="441.20" y="658.74" width="5.6" height="5.6" fill="#161616"/>
<rect x="449.20" y="657.56" width="5.6" height="5.6" fill="#161616"/>
<rect x="457.20" y="656.22" width="5.6" height="5.6" fill="#161616"/>
<rect x="465.20" y="653.74" width="5.6" height="5.6" fill="#161616"/>
<rect x="473.20" y="650.39" width="5.6" height="5.6" fill="#161616"/>
<rect x="488.60" y="557.40" width="5.6" height="5.6" fill="#161616"/>
<polyline points="73.9,685.0 79.5,666.5 86.2,656.5 96.7,646.5 105.5,639.9 116.9,633.1 124.1,627.9 133.9,622.8 141.6,620.2 150.3,615.2 158.7,611.9 178.8,599.9 200.7,585.6 220.8,576.5 242.2,571.4 263.0,566.5 276.5,566.0 287.3,564.5 305.0,562.0 326.0,560.0 347.0,558.5 368.6,557.5 389.0,556.0 410.5,554.8 430.8,553.3 453.6,550.8 470.3,547.5 477.0,545.0 483.5,541.1 492.2,483.2 469.0,544.5 453.6,550.3 430.8,552.9 410.5,554.4 389.0,555.6 368.6,556.8 347.0,557.6 326.3,558.6 305.2,559.3 284.9,559.0 270.0,563.0 263.0,566.5" fill="none" stroke="#c81e30" stroke-width="2.0" stroke-linejoin="round" stroke-linecap="round" />
<circle cx="73.90" cy="685.00" r="3.2" fill="#ee1414"/>
<circle cx="79.50" cy="666.50" r="3.2" fill="#ee1414"/>
<circle cx="86.20" cy="656.50" r="3.2" fill="#ee1414"/>
<circle cx="96.70" cy="646.50" r="3.2" fill="#ee1414"/>
<circle cx="105.50" cy="639.90" r="3.2" fill="#ee1414"/>
<circle cx="116.90" cy="633.10" r="3.2" fill="#ee1414"/>
<circle cx="124.10" cy="627.90" r="3.2" fill="#ee1414"/>
<circle cx="133.90" cy="622.80" r="3.2" fill="#ee1414"/>
<circle cx="141.60" cy="620.20" r="3.2" fill="#ee1414"/>
<circle cx="150.30" cy="615.20" r="3.2" fill="#ee1414"/>
<circle cx="158.70" cy="611.90" r="3.2" fill="#ee1414"/>
<circle cx="178.80" cy="599.90" r="3.2" fill="#ee1414"/>
<circle cx="200.70" cy="585.60" r="3.2" fill="#ee1414"/>
<circle cx="220.80" cy="576.50" r="3.2" fill="#ee1414"/>
<circle cx="242.20" cy="571.40" r="3.2" fill="#ee1414"/>
<circle cx="263.00" cy="566.50" r="3.2" fill="#ee1414"/>
<circle cx="276.00" cy="566.02" r="2.9" fill="#ee1414"/>
<circle cx="282.00" cy="565.24" r="2.9" fill="#ee1414"/>
<circle cx="288.00" cy="564.40" r="2.9" fill="#ee1414"/>
<circle cx="294.00" cy="563.55" r="2.9" fill="#ee1414"/>
<circle cx="300.00" cy="562.71" r="2.9" fill="#ee1414"/>
<circle cx="306.00" cy="561.90" r="2.9" fill="#ee1414"/>
<circle cx="312.00" cy="561.33" r="2.9" fill="#ee1414"/>
<circle cx="318.00" cy="560.76" r="2.9" fill="#ee1414"/>
<circle cx="324.00" cy="560.19" r="2.9" fill="#ee1414"/>
<circle cx="330.00" cy="559.71" r="2.9" fill="#ee1414"/>
<circle cx="336.00" cy="559.29" r="2.9" fill="#ee1414"/>
<circle cx="342.00" cy="558.86" r="2.9" fill="#ee1414"/>
<circle cx="348.00" cy="558.45" r="2.9" fill="#ee1414"/>
<circle cx="354.00" cy="558.18" r="2.9" fill="#ee1414"/>
<circle cx="360.00" cy="557.90" r="2.9" fill="#ee1414"/>
<circle cx="366.00" cy="557.62" r="2.9" fill="#ee1414"/>
<circle cx="372.00" cy="557.25" r="2.9" fill="#ee1414"/>
<circle cx="378.00" cy="556.81" r="2.9" fill="#ee1414"/>
<circle cx="384.00" cy="556.37" r="2.9" fill="#ee1414"/>
<circle cx="390.00" cy="555.94" r="2.9" fill="#ee1414"/>
<circle cx="396.00" cy="555.61" r="2.9" fill="#ee1414"/>
<circle cx="402.00" cy="555.27" r="2.9" fill="#ee1414"/>
<circle cx="408.00" cy="554.94" r="2.9" fill="#ee1414"/>
<circle cx="414.00" cy="554.54" r="2.9" fill="#ee1414"/>
<circle cx="420.00" cy="554.10" r="2.9" fill="#ee1414"/>
<circle cx="426.00" cy="553.65" r="2.9" fill="#ee1414"/>
<circle cx="432.00" cy="553.17" r="2.9" fill="#ee1414"/>
<circle cx="438.00" cy="552.51" r="2.9" fill="#ee1414"/>
<circle cx="444.00" cy="551.85" r="2.9" fill="#ee1414"/>
<circle cx="450.00" cy="551.19" r="2.9" fill="#ee1414"/>
<circle cx="456.00" cy="550.33" r="2.9" fill="#ee1414"/>
<circle cx="462.00" cy="549.14" r="2.9" fill="#ee1414"/>
<circle cx="468.00" cy="547.95" r="2.9" fill="#ee1414"/>
<circle cx="474.00" cy="546.12" r="2.9" fill="#ee1414"/>
<circle cx="480.00" cy="543.20" r="2.9" fill="#ee1414"/>
<circle cx="280.00" cy="560.32" r="2.9" fill="#ee1414"/>
<circle cx="287.00" cy="559.03" r="2.9" fill="#ee1414"/>
<circle cx="294.00" cy="559.13" r="2.9" fill="#ee1414"/>
<circle cx="301.00" cy="559.24" r="2.9" fill="#ee1414"/>
<circle cx="308.00" cy="559.21" r="2.9" fill="#ee1414"/>
<circle cx="315.00" cy="558.97" r="2.9" fill="#ee1414"/>
<circle cx="322.00" cy="558.74" r="2.9" fill="#ee1414"/>
<circle cx="329.00" cy="558.47" r="2.9" fill="#ee1414"/>
<circle cx="336.00" cy="558.13" r="2.9" fill="#ee1414"/>
<circle cx="343.00" cy="557.79" r="2.9" fill="#ee1414"/>
<circle cx="350.00" cy="557.49" r="2.9" fill="#ee1414"/>
<circle cx="357.00" cy="557.23" r="2.9" fill="#ee1414"/>
<circle cx="364.00" cy="556.97" r="2.9" fill="#ee1414"/>
<circle cx="371.00" cy="556.66" r="2.9" fill="#ee1414"/>
<circle cx="378.00" cy="556.25" r="2.9" fill="#ee1414"/>
<circle cx="385.00" cy="555.84" r="2.9" fill="#ee1414"/>
<circle cx="392.00" cy="555.43" r="2.9" fill="#ee1414"/>
<circle cx="399.00" cy="555.04" r="2.9" fill="#ee1414"/>
<circle cx="406.00" cy="554.65" r="2.9" fill="#ee1414"/>
<circle cx="413.00" cy="554.22" r="2.9" fill="#ee1414"/>
<circle cx="420.00" cy="553.70" r="2.9" fill="#ee1414"/>
<circle cx="427.00" cy="553.18" r="2.9" fill="#ee1414"/>
<circle cx="434.00" cy="552.54" r="2.9" fill="#ee1414"/>
<circle cx="441.00" cy="551.74" r="2.9" fill="#ee1414"/>
<circle cx="448.00" cy="550.94" r="2.9" fill="#ee1414"/>
<circle cx="455.00" cy="549.77" r="2.9" fill="#ee1414"/>
<circle cx="462.00" cy="547.14" r="2.9" fill="#ee1414"/>
<circle cx="469.00" cy="544.50" r="2.9" fill="#ee1414"/>
<circle cx="492.00" cy="483.50" r="3.2" fill="#ee1414"/>
<rect x="71.0" y="688" width="6.7" height="79.5" fill="#1818e0"/>
<polygon points="74.30,686.00 78.00,692.66 70.60,692.66" fill="#1818e0"/>
<polygon points="74.30,690.00 78.00,696.66 70.60,696.66" fill="#1818e0"/>
<polygon points="74.30,694.00 78.00,700.66 70.60,700.66" fill="#1818e0"/>
<polygon points="74.30,698.00 78.00,704.66 70.60,704.66" fill="#1818e0"/>
<polygon points="74.30,702.00 78.00,708.66 70.60,708.66" fill="#1818e0"/>
<polygon points="74.30,706.00 78.00,712.66 70.60,712.66" fill="#1818e0"/>
<polygon points="74.30,710.00 78.00,716.66 70.60,716.66" fill="#1818e0"/>
<polygon points="74.30,714.00 78.00,720.66 70.60,720.66" fill="#1818e0"/>
<polygon points="74.30,718.00 78.00,724.66 70.60,724.66" fill="#1818e0"/>
<polygon points="74.30,722.00 78.00,728.66 70.60,728.66" fill="#1818e0"/>
<polygon points="74.30,726.00 78.00,732.66 70.60,732.66" fill="#1818e0"/>
<polygon points="74.30,730.00 78.00,736.66 70.60,736.66" fill="#1818e0"/>
<polygon points="74.30,734.00 78.00,740.66 70.60,740.66" fill="#1818e0"/>
<polygon points="74.30,738.00 78.00,744.66 70.60,744.66" fill="#1818e0"/>
<polygon points="74.30,742.00 78.00,748.66 70.60,748.66" fill="#1818e0"/>
<polygon points="74.30,746.00 78.00,752.66 70.60,752.66" fill="#1818e0"/>
<polygon points="74.30,750.00 78.00,756.66 70.60,756.66" fill="#1818e0"/>
<polygon points="74.30,754.00 78.00,760.66 70.60,760.66" fill="#1818e0"/>
<polygon points="74.30,758.00 78.00,764.66 70.60,764.66" fill="#1818e0"/>
<polygon points="74.30,762.00 78.00,768.66 70.60,768.66" fill="#1818e0"/>
<polyline points="74.3,767.0 74.3,690.0 76.5,684.0 79.7,665.4 86.2,655.6 96.7,643.6 105.5,635.5 116.9,627.2 125.2,621.1 133.9,615.6 137.2,613.7 141.6,610.2 150.3,604.7 158.7,599.2 178.8,583.9 201.1,567.7 221.5,557.2 242.2,550.6 263.0,546.3 284.9,542.3 305.2,539.2 326.3,536.3 347.1,533.9 368.6,532.0 389.0,529.6 410.5,528.7 430.8,527.2 453.6,524.4 470.3,520.8 475.1,519.6 491.4,478.3 473.9,519.6 453.6,523.2 446.4,523.9 432.0,526.3 422.5,525.6 402.1,526.7 389.0,527.2 368.6,527.9 347.1,528.7 326.3,530.3 305.2,531.5 284.9,532.0 263.0,540.8 242.2,550.6" fill="none" stroke="#2a25a4" stroke-width="2.0" stroke-linejoin="round" stroke-linecap="round" />
<polyline points="476.8,520.6 491.0,481.0" fill="none" stroke="#2a25a4" stroke-width="1.0" stroke-linejoin="round" stroke-linecap="round" />
<polygon points="79.70,661.40 83.40,668.06 76.00,668.06" fill="#1818e0"/>
<polygon points="86.20,651.60 89.90,658.26 82.50,658.26" fill="#1818e0"/>
<polygon points="96.70,639.60 100.40,646.26 93.00,646.26" fill="#1818e0"/>
<polygon points="105.50,631.50 109.20,638.16 101.80,638.16" fill="#1818e0"/>
<polygon points="116.90,623.20 120.60,629.86 113.20,629.86" fill="#1818e0"/>
<polygon points="125.20,617.10 128.90,623.76 121.50,623.76" fill="#1818e0"/>
<polygon points="133.90,611.60 137.60,618.26 130.20,618.26" fill="#1818e0"/>
<polygon points="137.20,609.70 140.90,616.36 133.50,616.36" fill="#1818e0"/>
<polygon points="141.60,606.20 145.30,612.86 137.90,612.86" fill="#1818e0"/>
<polygon points="150.30,600.70 154.00,607.36 146.60,607.36" fill="#1818e0"/>
<polygon points="158.70,595.20 162.40,601.86 155.00,601.86" fill="#1818e0"/>
<polygon points="178.80,579.90 182.50,586.56 175.10,586.56" fill="#1818e0"/>
<polygon points="201.10,563.70 204.80,570.36 197.40,570.36" fill="#1818e0"/>
<polygon points="221.50,553.20 225.20,559.86 217.80,559.86" fill="#1818e0"/>
<polygon points="242.20,546.60 245.90,553.26 238.50,553.26" fill="#1818e0"/>
<polygon points="263.00,542.30 266.70,548.96 259.30,548.96" fill="#1818e0"/>
<polygon points="284.90,538.30 288.60,544.96 281.20,544.96" fill="#1818e0"/>
<polygon points="305.20,535.20 308.90,541.86 301.50,541.86" fill="#1818e0"/>
<polygon points="326.30,532.30 330.00,538.96 322.60,538.96" fill="#1818e0"/>
<polygon points="347.10,529.90 350.80,536.56 343.40,536.56" fill="#1818e0"/>
<polygon points="368.60,528.00 372.30,534.66 364.90,534.66" fill="#1818e0"/>
<polygon points="389.00,525.60 392.70,532.26 385.30,532.26" fill="#1818e0"/>
<polygon points="410.50,524.70 414.20,531.36 406.80,531.36" fill="#1818e0"/>
<polygon points="430.80,523.20 434.50,529.86 427.10,529.86" fill="#1818e0"/>
<polygon points="453.60,520.40 457.30,527.06 449.90,527.06" fill="#1818e0"/>
<polygon points="470.30,516.80 474.00,523.46 466.60,523.46" fill="#1818e0"/>
<polygon points="475.10,515.60 478.80,522.26 471.40,522.26" fill="#1818e0"/>
<polygon points="473.90,515.60 477.60,522.26 470.20,522.26" fill="#1818e0"/>
<polygon points="453.60,519.20 457.30,525.86 449.90,525.86" fill="#1818e0"/>
<polygon points="446.40,519.90 450.10,526.56 442.70,526.56" fill="#1818e0"/>
<polygon points="432.00,522.30 435.70,528.96 428.30,528.96" fill="#1818e0"/>
<polygon points="422.50,521.60 426.20,528.26 418.80,528.26" fill="#1818e0"/>
<polygon points="402.10,522.70 405.80,529.36 398.40,529.36" fill="#1818e0"/>
<polygon points="389.00,523.20 392.70,529.86 385.30,529.86" fill="#1818e0"/>
<polygon points="368.60,523.90 372.30,530.56 364.90,530.56" fill="#1818e0"/>
<polygon points="347.10,524.70 350.80,531.36 343.40,531.36" fill="#1818e0"/>
<polygon points="326.30,526.30 330.00,532.96 322.60,532.96" fill="#1818e0"/>
<polygon points="305.20,527.50 308.90,534.16 301.50,534.16" fill="#1818e0"/>
<polygon points="284.90,528.00 288.60,534.66 281.20,534.66" fill="#1818e0"/>
<polygon points="263.00,536.80 266.70,543.46 259.30,543.46" fill="#1818e0"/>
<polygon points="491.40,474.30 495.10,480.96 487.70,480.96" fill="#1818e0"/>
<polyline points="469.5,543.9 490.5,482.0" fill="none" stroke="#c81e30" stroke-width="1.0" stroke-linejoin="round" stroke-linecap="round" />
<text x="0" y="0" font-family="Liberation Sans" font-size="17.5" font-weight="normal" text-anchor="middle" fill="#1c1c1c" transform="translate(324.90,523.60) scale(1.04,1)">c</text>
<text x="0" y="0" font-family="Liberation Sans" font-size="17.5" font-weight="normal" text-anchor="middle" fill="#1c1c1c" transform="translate(325.40,579.90) scale(1.04,1)">b</text>
<text x="0" y="0" font-family="Liberation Sans" font-size="17.5" font-weight="normal" text-anchor="middle" fill="#1c1c1c" transform="translate(324.50,659.50) scale(1.04,1)">a</text>
<line x1="582.10" y1="461.85" x2="582.10" y2="774.45" stroke="#000" stroke-width="1.8" stroke-linecap="butt"/>
<line x1="1011.60" y1="461.85" x2="1011.60" y2="774.45" stroke="#000" stroke-width="1.8" stroke-linecap="butt"/>
<line x1="581.25" y1="773.60" x2="746.80" y2="773.60" stroke="#000" stroke-width="1.8" stroke-linecap="butt"/>
<line x1="764.70" y1="773.60" x2="1012.45" y2="773.60" stroke="#000" stroke-width="1.8" stroke-linecap="butt"/>
<line x1="581.25" y1="462.70" x2="648.60" y2="462.70" stroke="#000" stroke-width="1.8" stroke-linecap="butt"/>
<line x1="715.00" y1="462.70" x2="746.80" y2="462.70" stroke="#000" stroke-width="1.8" stroke-linecap="butt"/>
<line x1="764.70" y1="462.70" x2="1012.45" y2="462.70" stroke="#000" stroke-width="1.8" stroke-linecap="butt"/>
<line x1="746.80" y1="468.70" x2="754.40" y2="457.50" stroke="#000" stroke-width="1.7" stroke-linecap="butt"/>
<line x1="759.00" y1="468.70" x2="766.60" y2="457.50" stroke="#000" stroke-width="1.7" stroke-linecap="butt"/>
<line x1="746.80" y1="779.60" x2="754.40" y2="768.40" stroke="#000" stroke-width="1.7" stroke-linecap="butt"/>
<line x1="759.00" y1="779.60" x2="766.60" y2="768.40" stroke="#000" stroke-width="1.7" stroke-linecap="butt"/>
<line x1="575.80" y1="768.60" x2="582.10" y2="768.60" stroke="#000" stroke-width="1.8" stroke-linecap="butt"/>
<text x="572.00" y="772.70" font-family="Liberation Sans" font-size="15.6" font-weight="normal" text-anchor="end" fill="#1c1c1c" style="stroke-width:0.3px">0.0</text>
<line x1="578.30" y1="743.11" x2="582.10" y2="743.11" stroke="#000" stroke-width="1.8" stroke-linecap="butt"/>
<line x1="575.80" y1="717.62" x2="582.10" y2="717.62" stroke="#000" stroke-width="1.8" stroke-linecap="butt"/>
<text x="572.00" y="721.72" font-family="Liberation Sans" font-size="15.6" font-weight="normal" text-anchor="end" fill="#1c1c1c" style="stroke-width:0.3px">0.2</text>
<line x1="578.30" y1="692.12" x2="582.10" y2="692.12" stroke="#000" stroke-width="1.8" stroke-linecap="butt"/>
<line x1="575.80" y1="666.63" x2="582.10" y2="666.63" stroke="#000" stroke-width="1.8" stroke-linecap="butt"/>
<text x="572.00" y="670.73" font-family="Liberation Sans" font-size="15.6" font-weight="normal" text-anchor="end" fill="#1c1c1c" style="stroke-width:0.3px">0.4</text>
<line x1="578.30" y1="641.14" x2="582.10" y2="641.14" stroke="#000" stroke-width="1.8" stroke-linecap="butt"/>
<line x1="575.80" y1="615.65" x2="582.10" y2="615.65" stroke="#000" stroke-width="1.8" stroke-linecap="butt"/>
<text x="572.00" y="619.75" font-family="Liberation Sans" font-size="15.6" font-weight="normal" text-anchor="end" fill="#1c1c1c" style="stroke-width:0.3px">0.6</text>
<line x1="578.30" y1="590.16" x2="582.10" y2="590.16" stroke="#000" stroke-width="1.8" stroke-linecap="butt"/>
<line x1="575.80" y1="564.67" x2="582.10" y2="564.67" stroke="#000" stroke-width="1.8" stroke-linecap="butt"/>
<text x="572.00" y="568.77" font-family="Liberation Sans" font-size="15.6" font-weight="normal" text-anchor="end" fill="#1c1c1c" style="stroke-width:0.3px">0.8</text>
<line x1="578.30" y1="539.17" x2="582.10" y2="539.17" stroke="#000" stroke-width="1.8" stroke-linecap="butt"/>
<line x1="575.80" y1="513.68" x2="582.10" y2="513.68" stroke="#000" stroke-width="1.8" stroke-linecap="butt"/>
<text x="572.00" y="517.78" font-family="Liberation Sans" font-size="15.6" font-weight="normal" text-anchor="end" fill="#1c1c1c" style="stroke-width:0.3px">1.0</text>
<line x1="578.30" y1="488.19" x2="582.10" y2="488.19" stroke="#000" stroke-width="1.8" stroke-linecap="butt"/>
<line x1="575.80" y1="462.70" x2="582.10" y2="462.70" stroke="#000" stroke-width="1.8" stroke-linecap="butt"/>
<text x="572.00" y="466.80" font-family="Liberation Sans" font-size="15.6" font-weight="normal" text-anchor="end" fill="#1c1c1c" style="stroke-width:0.3px">1.2</text>
<line x1="582.10" y1="773.60" x2="582.10" y2="777.40" stroke="#000" stroke-width="1.8" stroke-linecap="butt"/>
<line x1="615.00" y1="773.60" x2="615.00" y2="779.90" stroke="#000" stroke-width="1.8" stroke-linecap="butt"/>
<text x="0" y="0" font-family="Liberation Sans" font-size="15.6" font-weight="normal" text-anchor="middle" fill="#1c1c1c" style="stroke-width:0.3px" transform="translate(614.70,796.60) scale(1.06,1)">0.6</text>
<line x1="647.90" y1="773.60" x2="647.90" y2="777.40" stroke="#000" stroke-width="1.8" stroke-linecap="butt"/>
<line x1="680.80" y1="773.60" x2="680.80" y2="779.90" stroke="#000" stroke-width="1.8" stroke-linecap="butt"/>
<text x="0" y="0" font-family="Liberation Sans" font-size="15.6" font-weight="normal" text-anchor="middle" fill="#1c1c1c" style="stroke-width:0.3px" transform="translate(680.50,796.60) scale(1.06,1)">0.8</text>
<line x1="713.70" y1="773.60" x2="713.70" y2="777.40" stroke="#000" stroke-width="1.8" stroke-linecap="butt"/>
<line x1="746.60" y1="773.60" x2="746.60" y2="779.90" stroke="#000" stroke-width="1.8" stroke-linecap="butt"/>
<text x="0" y="0" font-family="Liberation Sans" font-size="15.6" font-weight="normal" text-anchor="middle" fill="#1c1c1c" style="stroke-width:0.3px" transform="translate(746.30,796.60) scale(1.06,1)">1.0</text>
<line x1="777.40" y1="773.60" x2="777.40" y2="779.90" stroke="#000" stroke-width="1.8" stroke-linecap="butt"/>
<text x="0" y="0" font-family="Liberation Sans" font-size="15.6" font-weight="normal" text-anchor="middle" fill="#1c1c1c" style="stroke-width:0.3px" transform="translate(777.40,796.60) scale(1.05,1)">2</text>
<line x1="796.90" y1="773.60" x2="796.90" y2="777.40" stroke="#000" stroke-width="1.8" stroke-linecap="butt"/>
<line x1="816.40" y1="773.60" x2="816.40" y2="779.90" stroke="#000" stroke-width="1.8" stroke-linecap="butt"/>
<text x="0" y="0" font-family="Liberation Sans" font-size="15.6" font-weight="normal" text-anchor="middle" fill="#1c1c1c" style="stroke-width:0.3px" transform="translate(816.40,796.60) scale(1.05,1)">4</text>
<line x1="835.90" y1="773.60" x2="835.90" y2="777.40" stroke="#000" stroke-width="1.8" stroke-linecap="butt"/>
<line x1="855.40" y1="773.60" x2="855.40" y2="779.90" stroke="#000" stroke-width="1.8" stroke-linecap="butt"/>
<text x="0" y="0" font-family="Liberation Sans" font-size="15.6" font-weight="normal" text-anchor="middle" fill="#1c1c1c" style="stroke-width:0.3px" transform="translate(855.40,796.60) scale(1.05,1)">6</text>
<line x1="874.90" y1="773.60" x2="874.90" y2="777.40" stroke="#000" stroke-width="1.8" stroke-linecap="butt"/>
<line x1="894.40" y1="773.60" x2="894.40" y2="779.90" stroke="#000" stroke-width="1.8" stroke-linecap="butt"/>
<text x="0" y="0" font-family="Liberation Sans" font-size="15.6" font-weight="normal" text-anchor="middle" fill="#1c1c1c" style="stroke-width:0.3px" transform="translate(894.40,796.60) scale(1.05,1)">8</text>
<line x1="913.90" y1="773.60" x2="913.90" y2="777.40" stroke="#000" stroke-width="1.8" stroke-linecap="butt"/>
<line x1="933.40" y1="773.60" x2="933.40" y2="779.90" stroke="#000" stroke-width="1.8" stroke-linecap="butt"/>
<text x="0" y="0" font-family="Liberation Sans" font-size="15.6" font-weight="normal" text-anchor="middle" fill="#1c1c1c" style="stroke-width:0.3px" transform="translate(933.40,796.60) scale(1.05,1)">10</text>
<line x1="952.90" y1="773.60" x2="952.90" y2="777.40" stroke="#000" stroke-width="1.8" stroke-linecap="butt"/>
<line x1="972.40" y1="773.60" x2="972.40" y2="779.90" stroke="#000" stroke-width="1.8" stroke-linecap="butt"/>
<text x="0" y="0" font-family="Liberation Sans" font-size="15.6" font-weight="normal" text-anchor="middle" fill="#1c1c1c" style="stroke-width:0.3px" transform="translate(972.40,796.60) scale(1.05,1)">12</text>
<line x1="991.90" y1="773.60" x2="991.90" y2="777.40" stroke="#000" stroke-width="1.8" stroke-linecap="butt"/>
<line x1="1011.40" y1="773.60" x2="1011.40" y2="779.90" stroke="#000" stroke-width="1.8" stroke-linecap="butt"/>
<text x="0" y="0" font-family="Liberation Sans" font-size="15.6" font-weight="normal" text-anchor="middle" fill="#1c1c1c" style="stroke-width:0.3px" transform="translate(1011.40,796.60) scale(1.05,1)">14</text>
<g transform="translate(591.25,801.25) scale(1.0446,0.9676) translate(-301,-287)"><text x="300" y="300" font-family="Liberation Sans" font-size="18" fill="#1a1a1a" >Pore Diameter (nm)</text></g>
<g transform="translate(803.60,801.25) scale(1.0449,0.9676) translate(-301,-287)"><text x="300" y="300" font-family="Liberation Sans" font-size="18" fill="#1a1a1a" >Pore Diameter (nm)</text></g>
<g transform="translate(533.00,538.00) scale(0.9824,1.0319) translate(-287,-215)"><text x="0" y="0" font-family="Liberation Sans" font-size="18" fill="#1a1a1a" transform="translate(300,400) rotate(-90)" >dV/dlogD (cm<tspan class="aux" font-size="11" dy="-8">3</tspan><tspan dy="8"> g</tspan><tspan class="aux" font-size="11" dy="-8">-1</tspan><tspan dy="8"> nm</tspan><tspan class="aux" font-size="11" dy="-8">-1</tspan><tspan dy="8">)</tspan></text></g>
<g transform="translate(669.30,475.30) scale(1.0348,0.9417) translate(-301,-276)"><text x="300" y="300" font-family="Liberation Serif" font-weight="bold" style="stroke:#111;stroke-width:0.2px" font-size="36" fill="#1a1a1a" >D</text></g>
<rect x="811.1" y="471.3" width="196.7" height="59.4" fill="#fff" stroke="#b8b8b8" stroke-width="1.2"/>
<line x1="810.60" y1="471.40" x2="1008.50" y2="471.40" stroke="#c8c8c8" stroke-width="2.2" stroke-linecap="butt"/>
<line x1="1007.90" y1="471.00" x2="1007.90" y2="531.20" stroke="#999" stroke-width="1.5" stroke-linecap="butt"/>
<line x1="810.60" y1="530.60" x2="1008.50" y2="530.60" stroke="#999" stroke-width="1.5" stroke-linecap="butt"/>
<line x1="813.80" y1="482.60" x2="850.90" y2="482.60" stroke="#161616" stroke-width="1.8" stroke-linecap="butt"/>
<rect x="829.80" y="479.40" width="5.2" height="5.2" fill="#161616"/>
<line x1="813.80" y1="501.90" x2="850.90" y2="501.90" stroke="#c81e30" stroke-width="1.8" stroke-linecap="butt"/>
<circle cx="832.30" cy="501.90" r="2.7" fill="#ee1414"/>
<line x1="813.80" y1="521.60" x2="850.90" y2="521.60" stroke="#2a25a4" stroke-width="1.8" stroke-linecap="butt"/>
<polygon points="832.30,518.06 835.30,523.46 829.30,523.46" fill="#1818e0"/>
<g transform="translate(856.30,487.00) scale(1.1329,1.0000) translate(-301,-300)"><text x="300" y="300" font-family="Liberation Sans" font-size="14" fill="#1a1a1a" >Pristine TS-1</text></g>
<g transform="translate(856.30,506.80) scale(1.1397,1.0000) translate(-301,-300)"><text x="300" y="300" font-family="Liberation Sans" font-size="14" fill="#1a1a1a" >CS-TS-1@mSiO2-30</text></g>
<g transform="translate(856.30,526.60) scale(1.1397,1.0000) translate(-301,-300)"><text x="300" y="300" font-family="Liberation Sans" font-size="14" fill="#1a1a1a" >CS-TS-1@mSiO2-50</text></g>
<polyline points="592.2,767.9 594.4,765.8 596.1,760.4 598.8,643.0 601.0,726.6 602.0,739.4 604.1,749.0 607.3,752.9 611.6,756.8 616.9,758.9 623.4,760.4 629.8,760.8 636.3,761.1 643.8,761.5 651.3,761.9 658.8,762.3 666.3,762.6 673.9,763.0 682.4,763.2 691.5,763.6 701.4,763.6 712.1,764.1 746.6,764.1" fill="none" stroke="#161616" stroke-width="1.9" stroke-linejoin="round" stroke-linecap="round" />
<polyline points="775.5,730.2 783.7,738.7 788.9,743.1 793.5,746.9 800.0,748.2 806.4,748.2 814.1,741.3 823.9,752.6 1011.4,752.6" fill="none" stroke="#161616" stroke-width="1.8" stroke-linejoin="round" stroke-linecap="round" />
<rect x="589.90" y="765.60" width="4.6" height="4.6" fill="#161616"/>
<rect x="592.10" y="763.50" width="4.6" height="4.6" fill="#161616"/>
<rect x="593.80" y="758.10" width="4.6" height="4.6" fill="#161616"/>
<rect x="596.50" y="640.70" width="4.6" height="4.6" fill="#161616"/>
<rect x="598.70" y="724.30" width="4.6" height="4.6" fill="#161616"/>
<rect x="599.70" y="737.10" width="4.6" height="4.6" fill="#161616"/>
<rect x="601.80" y="746.70" width="4.6" height="4.6" fill="#161616"/>
<rect x="605.00" y="750.60" width="4.6" height="4.6" fill="#161616"/>
<rect x="609.30" y="754.50" width="4.6" height="4.6" fill="#161616"/>
<rect x="614.60" y="756.60" width="4.6" height="4.6" fill="#161616"/>
<rect x="621.10" y="758.10" width="4.6" height="4.6" fill="#161616"/>
<rect x="627.50" y="758.50" width="4.6" height="4.6" fill="#161616"/>
<rect x="634.00" y="758.80" width="4.6" height="4.6" fill="#161616"/>
<rect x="641.50" y="759.20" width="4.6" height="4.6" fill="#161616"/>
<rect x="649.00" y="759.60" width="4.6" height="4.6" fill="#161616"/>
<rect x="656.50" y="760.00" width="4.6" height="4.6" fill="#161616"/>
<rect x="664.00" y="760.30" width="4.6" height="4.6" fill="#161616"/>
<rect x="671.60" y="760.70" width="4.6" height="4.6" fill="#161616"/>
<rect x="680.10" y="760.90" width="4.6" height="4.6" fill="#161616"/>
<rect x="689.20" y="761.30" width="4.6" height="4.6" fill="#161616"/>
<rect x="699.10" y="761.30" width="4.6" height="4.6" fill="#161616"/>
<rect x="709.80" y="761.80" width="4.6" height="4.6" fill="#161616"/>
<rect x="773.20" y="727.90" width="4.6" height="4.6" fill="#161616"/>
<rect x="781.40" y="736.40" width="4.6" height="4.6" fill="#161616"/>
<rect x="786.60" y="740.80" width="4.6" height="4.6" fill="#161616"/>
<rect x="791.20" y="744.60" width="4.6" height="4.6" fill="#161616"/>
<rect x="797.70" y="745.90" width="4.6" height="4.6" fill="#161616"/>
<rect x="804.10" y="745.90" width="4.6" height="4.6" fill="#161616"/>
<rect x="811.80" y="739.00" width="4.6" height="4.6" fill="#161616"/>
<rect x="821.60" y="750.30" width="4.6" height="4.6" fill="#161616"/>
<polyline points="594.4,691.4 599.4,537.5 600.0,645.6 603.8,654.2 606.9,666.1 611.0,675.0 617.5,680.2 626.4,683.2 637.1,685.3 649.1,686.3 662.8,687.2 694.4,690.4 712.3,689.6 746.6,689.6" fill="none" stroke="#c81e30" stroke-width="1.8" stroke-linejoin="round" stroke-linecap="round" />
<polyline points="772.9,650.3 775.0,647.7 776.8,645.1 779.3,637.4 780.6,625.8 783.6,595.3 788.7,560.4 794.1,598.4 800.0,659.8 806.4,684.6 814.1,692.3 823.2,697.4 834.2,699.3 847.7,701.8 864.4,704.4 886.8,706.5 919.3,709.6 967.5,711.4 1011.4,711.4" fill="none" stroke="#c81e30" stroke-width="1.8" stroke-linejoin="round" stroke-linecap="round" />
<circle cx="594.40" cy="691.40" r="2.7" fill="#ee1414"/>
<circle cx="599.40" cy="537.50" r="2.7" fill="#ee1414"/>
<circle cx="600.00" cy="645.60" r="2.7" fill="#ee1414"/>
<circle cx="603.80" cy="654.20" r="2.7" fill="#ee1414"/>
<circle cx="606.90" cy="666.10" r="2.7" fill="#ee1414"/>
<circle cx="611.00" cy="675.00" r="2.7" fill="#ee1414"/>
<circle cx="617.50" cy="680.20" r="2.7" fill="#ee1414"/>
<circle cx="626.40" cy="683.20" r="2.7" fill="#ee1414"/>
<circle cx="637.10" cy="685.30" r="2.7" fill="#ee1414"/>
<circle cx="649.10" cy="686.30" r="2.7" fill="#ee1414"/>
<circle cx="662.80" cy="687.20" r="2.7" fill="#ee1414"/>
<circle cx="694.40" cy="690.40" r="2.7" fill="#ee1414"/>
<circle cx="712.30" cy="689.60" r="2.7" fill="#ee1414"/>
<circle cx="772.90" cy="650.30" r="2.7" fill="#ee1414"/>
<circle cx="775.00" cy="647.70" r="2.7" fill="#ee1414"/>
<circle cx="776.80" cy="645.10" r="2.7" fill="#ee1414"/>
<circle cx="779.30" cy="637.40" r="2.7" fill="#ee1414"/>
<circle cx="780.60" cy="625.80" r="2.7" fill="#ee1414"/>
<circle cx="783.60" cy="595.30" r="2.7" fill="#ee1414"/>
<circle cx="788.70" cy="560.40" r="2.7" fill="#ee1414"/>
<circle cx="794.10" cy="598.40" r="2.7" fill="#ee1414"/>
<circle cx="800.00" cy="659.80" r="2.7" fill="#ee1414"/>
<circle cx="806.40" cy="684.60" r="2.7" fill="#ee1414"/>
<circle cx="814.10" cy="692.30" r="2.7" fill="#ee1414"/>
<circle cx="823.20" cy="697.40" r="2.7" fill="#ee1414"/>
<circle cx="834.20" cy="699.30" r="2.7" fill="#ee1414"/>
<circle cx="847.70" cy="701.80" r="2.7" fill="#ee1414"/>
<circle cx="864.40" cy="704.40" r="2.7" fill="#ee1414"/>
<circle cx="886.80" cy="706.50" r="2.7" fill="#ee1414"/>
<circle cx="919.30" cy="709.60" r="2.7" fill="#ee1414"/>
<circle cx="967.50" cy="711.40" r="2.7" fill="#ee1414"/>
<polyline points="592.7,614.1 596.1,612.7 599.6,510.5 600.3,568.0 600.4,585.4 602.1,590.5 606.4,595.6 611.5,599.1 616.6,602.8 622.6,605.0 630.3,607.6 640.5,609.0 653.4,612.7 669.6,612.7 692.7,614.1 714.0,614.1 746.6,614.4" fill="none" stroke="#2a25a4" stroke-width="1.8" stroke-linejoin="round" stroke-linecap="round" />
<polyline points="773.4,579.1 775.1,569.8 776.8,558.7 778.8,542.5 780.8,528.1 783.3,499.0 788.8,495.3 794.5,558.7 800.0,609.0 806.4,632.2 814.1,644.3 823.2,651.0 834.2,655.4 847.7,658.8 864.4,661.4 886.8,663.9 919.3,666.5 967.5,667.5 1011.4,668.3" fill="none" stroke="#2a25a4" stroke-width="1.8" stroke-linejoin="round" stroke-linecap="round" />
<polygon points="592.70,610.54 596.00,616.48 589.40,616.48" fill="#1818e0"/>
<polygon points="596.10,609.14 599.40,615.08 592.80,615.08" fill="#1818e0"/>
<polygon points="599.60,506.94 602.90,512.88 596.30,512.88" fill="#1818e0"/>
<polygon points="600.30,564.44 603.60,570.38 597.00,570.38" fill="#1818e0"/>
<polygon points="600.40,581.84 603.70,587.78 597.10,587.78" fill="#1818e0"/>
<polygon points="602.10,586.94 605.40,592.88 598.80,592.88" fill="#1818e0"/>
<polygon points="606.40,592.04 609.70,597.98 603.10,597.98" fill="#1818e0"/>
<polygon points="611.50,595.54 614.80,601.48 608.20,601.48" fill="#1818e0"/>
<polygon points="616.60,599.24 619.90,605.18 613.30,605.18" fill="#1818e0"/>
<polygon points="622.60,601.44 625.90,607.38 619.30,607.38" fill="#1818e0"/>
<polygon points="630.30,604.04 633.60,609.98 627.00,609.98" fill="#1818e0"/>
<polygon points="640.50,605.44 643.80,611.38 637.20,611.38" fill="#1818e0"/>
<polygon points="653.40,609.14 656.70,615.08 650.10,615.08" fill="#1818e0"/>
<polygon points="669.60,609.14 672.90,615.08 666.30,615.08" fill="#1818e0"/>
<polygon points="692.70,610.54 696.00,616.48 689.40,616.48" fill="#1818e0"/>
<polygon points="714.00,610.54 717.30,616.48 710.70,616.48" fill="#1818e0"/>
<polygon points="773.40,575.54 776.70,581.48 770.10,581.48" fill="#1818e0"/>
<polygon points="775.10,566.24 778.40,572.18 771.80,572.18" fill="#1818e0"/>
<polygon points="776.80,555.14 780.10,561.08 773.50,561.08" fill="#1818e0"/>
<polygon points="778.80,538.94 782.10,544.88 775.50,544.88" fill="#1818e0"/>
<polygon points="780.80,524.54 784.10,530.48 777.50,530.48" fill="#1818e0"/>
<polygon points="783.30,495.44 786.60,501.38 780.00,501.38" fill="#1818e0"/>
<polygon points="788.80,491.74 792.10,497.68 785.50,497.68" fill="#1818e0"/>
<polygon points="794.50,555.14 797.80,561.08 791.20,561.08" fill="#1818e0"/>
<polygon points="800.00,605.44 803.30,611.38 796.70,611.38" fill="#1818e0"/>
<polygon points="806.40,628.64 809.70,634.58 803.10,634.58" fill="#1818e0"/>
<polygon points="814.10,640.74 817.40,646.68 810.80,646.68" fill="#1818e0"/>
<polygon points="823.20,647.44 826.50,653.38 819.90,653.38" fill="#1818e0"/>
<polygon points="834.20,651.84 837.50,657.78 830.90,657.78" fill="#1818e0"/>
<polygon points="847.70,655.24 851.00,661.18 844.40,661.18" fill="#1818e0"/>
<polygon points="864.40,657.84 867.70,663.78 861.10,663.78" fill="#1818e0"/>
<polygon points="886.80,660.34 890.10,666.28 883.50,666.28" fill="#1818e0"/>
<polygon points="919.30,662.94 922.60,668.88 916.00,668.88" fill="#1818e0"/>
<polygon points="967.50,663.94 970.80,669.88 964.20,669.88" fill="#1818e0"/>
<text x="736.90" y="611.50" font-family="Liberation Sans" font-size="20.5" font-weight="normal" text-anchor="middle" fill="#1c1c1c">c</text>
<text x="738.20" y="686.50" font-family="Liberation Sans" font-size="21.5" font-weight="normal" text-anchor="middle" fill="#1c1c1c">b</text>
<text x="741.20" y="763.60" font-family="Liberation Sans" font-size="21" font-weight="normal" text-anchor="middle" fill="#1c1c1c">a</text>
</g>
</svg></body></html>
